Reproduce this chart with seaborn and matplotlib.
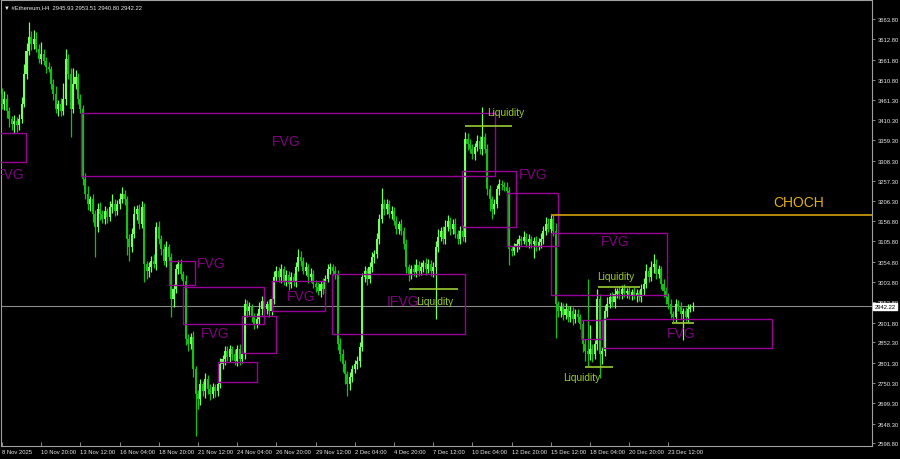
import numpy as np
import pandas as pd
import matplotlib
matplotlib.use("Agg")
import matplotlib.pyplot as plt
from matplotlib.patches import Rectangle
from matplotlib.transforms import blended_transform_factory
import seaborn as sns

# ---- candles (ETH H4) ----
first_open = 3475
closes = [
    3450, 3463, 3433, 3413, 3400, 3408, 3398, 3413, 3450, 3526, 3583, 3619, 3601, 3614, 3588, 3563,
    3576, 3558, 3543, 3538, 3501, 3475, 3438, 3450, 3433, 3463, 3563, 3526, 3438, 3501, 3518, 3463,
    3438, 3262, 3225, 3199, 3212, 3174, 3142, 3187, 3174, 3162, 3182, 3167, 3192, 3199, 3182, 3199,
    3212, 3225, 3212, 3112, 3092, 3124, 3174, 3187, 3149, 3192, 3049, 3031, 3041, 3056, 3049, 3142,
    3112, 3087, 3056, 3092, 3066, 2961, 2986, 3036, 3049, 3024, 3006, 2861, 2848, 2866, 2785, 2723,
    2710, 2748, 2730, 2760, 2735, 2723, 2740, 2730, 2748, 2798, 2810, 2830, 2815, 2835, 2823, 2805,
    2835, 2810, 2823, 2948, 2931, 2941, 2916, 2898, 2911, 2936, 2956, 2936, 2948, 2931, 2961, 3016,
    3031, 3016, 3036, 3006, 3021, 2999, 3016, 3006, 3041, 3066, 3056, 3031, 3041, 3016, 3024, 2999,
    2991, 2981, 2999, 2986, 3011, 3036, 3041, 3031, 3024, 2848, 2823, 2798, 2773, 2748, 2765, 2785,
    2798, 2805, 2840, 3016, 3031, 3011, 3041, 3066, 3074, 3112, 3162, 3199, 3187, 3199, 3174, 3182,
    3157, 3137, 3149, 3132, 3099, 3041, 3024, 3036, 3029, 3046, 3031, 3041, 3051, 3036, 3049, 3031,
    3041, 3092, 3117, 3132, 3112, 3142, 3157, 3137, 3149, 3124, 3112, 3132, 3117, 3363, 3350, 3338,
    3325, 3343, 3358, 3338, 3368, 3338, 3237, 3212, 3187, 3199, 3237, 3250, 3247, 3242, 3232, 3087,
    3082, 3092, 3099, 3112, 3107, 3117, 3104, 3112, 3099, 3107, 3094, 3104, 3112, 3132, 3149, 3137,
    3162, 3132, 2948, 2931, 2941, 2921, 2936, 2916, 2931, 2911, 2923, 2916, 2898, 2848, 2830, 2823,
    2835, 2823, 2848, 2961, 2823, 2830, 2931, 2948, 2966, 2953, 2974, 2981, 2974, 2986, 2976, 2981,
    2971, 2979, 2968, 2976, 2966, 2986, 2999, 3031, 3016, 3041, 3049, 3024, 3036, 2999, 2981, 2966,
    2948, 2923, 2916, 2948, 2941, 2923, 2931, 2916, 2936, 2941, 2942.22,
]
upper_wick = [
    15, 20, 12, 10, 8, 14, 10, 12, 18, 25, 20, 37, 15, 22, 18, 12,
    30, 12, 10, 14, 8, 12, 20, 10, 15, 40, 25, 12, 15, 40, 18, 10,
    12, 10, 15, 20, 8, 12, 10, 14, 18, 10, 12, 8, 15, 25, 12, 10,
    14, 18, 10, 8, 12, 14, 20, 10, 12, 15, 10, 8, 12, 14, 18, 12,
    14, 10, 12, 15, 8, 10, 12, 14, 10, 12, 8, 15, 12, 10, 14, 8,
    10, 12, 8, 14, 10, 12, 10, 8, 12, 15, 10, 14, 12, 10, 8, 12,
    10, 12, 8, 14, 10, 12, 8, 10, 14, 18, 12, 10, 8, 12, 10, 15,
    12, 10, 14, 8, 12, 10, 14, 10, 12, 20, 15, 10, 12, 8, 14, 10,
    10, 12, 8, 14, 10, 12, 10, 8, 12, 10, 14, 12, 10, 8, 12, 10,
    10, 12, 14, 10, 12, 8, 14, 12, 10, 15, 12, 40, 14, 12, 10, 12,
    10, 12, 8, 14, 10, 12, 8, 10, 12, 15, 10, 12, 8, 14, 12, 10,
    12, 15, 20, 10, 12, 18, 14, 10, 12, 15, 10, 12, 14, 18, 15, 12,
    12, 10, 14, 12, 75, 10, 12, 10, 8, 14, 10, 12, 10, 8, 12, 10,
    8, 10, 12, 10, 8, 14, 10, 12, 8, 10, 12, 10, 14, 12, 18, 15,
    10, 10, 20, 8, 12, 10, 14, 8, 12, 10, 12, 14, 8, 10, 12, 180,
    60, 12, 10, 25, 12, 10, 14, 18, 10, 12, 14, 8, 12, 10, 12, 8,
    10, 8, 12, 10, 8, 12, 14, 18, 10, 15, 25, 12, 10, 8, 12, 10,
    10, 12, 8, 14, 10, 12, 8, 10, 12, 8, 10,
]
lower_wick = [
    12, 15, 18, 20, 15, 22, 18, 12, 10, 8, 12, 10, 14, 12, 8, 10,
    12, 10, 15, 8, 12, 14, 10, 18, 12, 10, 15, 12, 70, 10, 14, 12,
    10, 15, 12, 14, 18, 20, 75, 12, 14, 10, 12, 15, 10, 14, 12, 10,
    12, 10, 14, 40, 35, 12, 10, 14, 12, 10, 45, 20, 15, 12, 10, 14,
    12, 15, 10, 14, 12, 45, 20, 10, 12, 14, 10, 15, 18, 12, 20, 105,
    25, 14, 12, 18, 12, 15, 10, 14, 12, 10, 12, 15, 10, 12, 14, 10,
    12, 14, 10, 12, 15, 10, 14, 12, 10, 12, 14, 10, 12, 15, 10, 12,
    10, 12, 14, 10, 12, 15, 10, 12, 14, 10, 12, 8, 10, 14, 12, 10,
    12, 10, 14, 12, 10, 8, 12, 10, 14, 15, 18, 20, 25, 30, 15, 12,
    10, 12, 14, 10, 12, 15, 10, 12, 14, 10, 12, 10, 14, 12, 10, 12,
    10, 12, 14, 10, 12, 15, 18, 12, 10, 14, 12, 10, 12, 15, 10, 12,
    14, 130, 12, 10, 14, 12, 10, 15, 12, 10, 14, 12, 10, 12, 15, 10,
    12, 14, 10, 12, 15, 10, 14, 30, 25, 12, 10, 14, 12, 10, 12, 40,
    12, 10, 14, 12, 10, 8, 12, 15, 10, 35, 12, 10, 14, 12, 10, 8,
    10, 12, 85, 15, 14, 12, 10, 14, 12, 15, 10, 14, 12, 20, 25, 30,
    15, 20, 12, 14, 60, 25, 12, 14, 10, 12, 15, 10, 12, 14, 10, 12,
    10, 12, 8, 14, 10, 12, 15, 10, 12, 10, 14, 12, 10, 12, 15, 18,
    12, 10, 14, 12, 10, 12, 65, 10, 12, 8, 10,
]

# axis labels
price_ticks = [3663.80, 3612.80, 3561.80, 3510.80, 3461.30, 3410.30, 3359.30, 3308.30,
               3257.30, 3206.30, 3156.80, 3105.80, 3054.80, 3003.80, 2952.80, 2901.80,
               2852.30, 2801.30, 2750.30, 2699.30, 2648.30, 2598.80]
date_ticks = [0, 16, 32, 48, 64, 80, 96, 112, 128, 144, 160, 176, 192, 208, 224, 240, 256, 272]
date_labels = ["8 Nov 2025", "10 Nov 20:00", "13 Nov 12:00", "16 Nov 04:00", "18 Nov 20:00",
               "21 Nov 12:00", "24 Nov 04:00", "26 Nov 20:00", "29 Nov 12:00", "2 Dec 04:00",
               "4 Dec 20:00", "7 Dec 12:00", "10 Dec 04:00", "12 Dec 20:00", "15 Dec 12:00",
               "18 Dec 04:00", "20 Dec 20:00", "23 Dec 12:00"]

# FVG zones: (bar start, bar end, price top, price bottom)
fvg_start = [-3, 32.2, 68.2, 73.9, 88.2, 98.0, 110.2, 134.7, 187.8, 206.1, 224.1, 236.3, 245.3]
fvg_end = [9.8, 201.2, 78.8, 106.9, 104.1, 111.8, 131.8, 189.0, 209.8, 227.0, 271.4, 245.0, 314.3]
fvg_top = [3378, 3428, 3056, 2991, 2803, 2918, 3006, 3024, 3282, 3227, 3127, 2908, 2911]
fvg_bottom = [3305, 3270, 2996, 2898, 2753, 2825, 2931, 2873, 3142, 3094, 2971, 2861, 2838]

# zone labels
zone_text = ["FVG", "FVG", "FVG", "FVG", "FVG", "IFVG", "FVG", "FVG", "FVG"]
zone_x = [-2.6, 115.9, 79.6, 86.9, 122.0, 157.1, 211.0, 250.2, 277.1]
zone_y = [3275, 3358, 3051, 2876, 2969, 2956, 3275, 3107, 2876]
zone_ha = ["left", "center", "left", "center", "center", "left", "left", "center", "center"]

# liquidity levels
liq_start = [189.0, 166.1, 238.0, 243.3, 273.5]
liq_end = [208.2, 186.1, 249.4, 260.4, 282.4]
liq_price = [3395, 2986, 2790, 2991, 2901]
liq_label_x = [198.0, 169.0, 229.0, 242.9]
liq_label_y = [3430, 2956, 2765, 3019]

choch_start = 224.1
choch_price = 3172
last_price = 2942.22

df = pd.DataFrame({"close": closes, "up": upper_wick, "dn": lower_wick})
df["open"] = [first_open] + closes[:-1]
df["bar"] = np.arange(len(df))
df["top"] = df[["open", "close"]].max(axis=1)
df["bot"] = df[["open", "close"]].min(axis=1)
df["high"] = df["top"] + df["up"]
df["low"] = df["bot"] - df["dn"]
df["bull"] = df["close"] >= df["open"]

sns.set_style("ticks", {"axes.facecolor": "black", "figure.facecolor": "black",
                        "axes.edgecolor": "#a0a0a0", "text.color": "white"})
plt.rcParams["font.family"] = ["Liberation Sans", "DejaVu Sans"]

fig = plt.figure(figsize=(9, 4.6), dpi=100)
ax = fig.add_axes([1 / 900, 13 / 460, 871 / 900, 446 / 460])
ax.set_facecolor("black")

up_col = "#74ff5e"
dn_col = "#14c014"
colors = np.where(df["bull"], up_col, dn_col)
ax.vlines(df["bar"], df["low"], df["high"], colors=colors, lw=0.9, zorder=3)
ax.bar(df["bar"], (df["top"] - df["bot"]).clip(lower=2), bottom=df["bot"], width=0.85,
       color=colors, linewidth=0, zorder=3)

# current price
ax.axhline(last_price, color="#8a8a8a", lw=0.8, zorder=2)

# FVG boxes
for x0, x1, t, b in zip(fvg_start, fvg_end, fvg_top, fvg_bottom):
    ax.add_patch(Rectangle((x0, b), x1 - x0, t - b, fill=False, edgecolor="#9a009a",
                           lw=1.0, zorder=4, clip_on=True))
for txt, x, y, ha in zip(zone_text, zone_x, zone_y, zone_ha):
    ax.text(x, y, txt, color="#800080", fontsize=10, ha=ha, va="center", zorder=5, clip_on=True)

# liquidity
for x0, x1, p in zip(liq_start, liq_end, liq_price):
    ax.hlines(p, x0, x1, color="#9acd32", lw=1.2, zorder=5)
for x, y in zip(liq_label_x, liq_label_y):
    ax.text(x, y, "Liquidity", color="#9acd32", fontsize=7.3, ha="left", va="center", zorder=5)

# CHOCH
ax.hlines(choch_price, choch_start, 360, color="#d4a20f", lw=1.2, zorder=5)
ax.text(325.3, choch_price + 14, "CHOCH", color="#e6b012", fontsize=10, ha="center",
        va="bottom", zorder=5)

ax.set_xlim(-0.41, 355.1)
ax.set_ylim(2592.0, 3711.5)

small = 4.2
ax.yaxis.tick_right()
ax.set_yticks(price_ticks)
ax.set_yticklabels([f"{v:.2f}" for v in price_ticks])
ax.tick_params(axis="y", colors="#a0a0a0", labelcolor="#e8e8e8", labelsize=small,
               length=2.5, width=0.6, pad=1.5, direction="out")
ax.set_xticks(date_ticks)
ax.set_xticklabels(date_labels, ha="left")
ax.tick_params(axis="x", colors="#a0a0a0", labelcolor="#e8e8e8", labelsize=small,
               length=3, width=0.6, pad=2, direction="in")
for s in ax.spines.values():
    s.set_color("#a0a0a0")
    s.set_linewidth(0.8)

# last price tag
tr = blended_transform_factory(ax.transAxes, ax.transData)
ax.text(1.003, last_price, f"{last_price:.2f}", transform=tr, color="black", fontsize=small,
        ha="left", va="center", zorder=10, clip_on=False,
        bbox=dict(boxstyle="square,pad=0.25", fc="white", ec="white"))

fig.text(0.004, 0.988, "\u25bc #Ethereum,H4  2945.93 2953.51 2940.80 2942.22", color="#e8e8e8",
         fontsize=small, ha="left", va="top")

fig.savefig("out.png", dpi=100, facecolor="black")
